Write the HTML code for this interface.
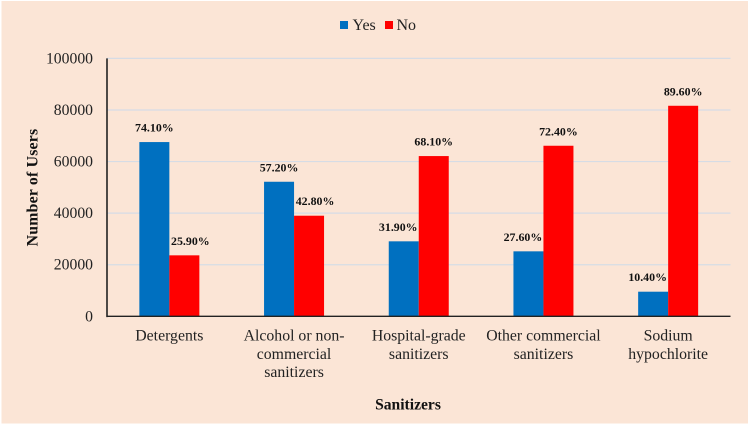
<!DOCTYPE html>
<html lang="en">
<head>
<meta charset="utf-8">
<title>Sanitizer usage</title>
<style>
html,body{margin:0;padding:0;background:#fff;width:750px;height:426px;overflow:hidden}
svg{display:block;font-family:"Liberation Serif",serif}
</style>
</head>
<body>
<svg id="chart" width="750" height="426" viewBox="0 0 750 426" xmlns="http://www.w3.org/2000/svg">
  <rect x="1.5" y="1" width="746.5" height="422.5" fill="#FBE5D6"/>
  <g id="grid"></g>
  <g id="bars"></g>
  <g id="axes"></g>
  <g id="labels"></g>
  <g>
    <g>
      <rect x="340" y="21" width="8" height="8" fill="#0070C0"/>
      <text x="352.5" y="30" font-size="16" fill="#222">Yes</text>
    </g>
    <g>
      <rect x="385" y="21" width="8" height="8" fill="#FF0000"/>
      <text x="396.5" y="30" font-size="16" fill="#222">No</text>
    </g>
  </g>
  <text transform="translate(37.5,187.5) rotate(-90)" text-anchor="middle" font-size="15.8" font-weight="bold" letter-spacing="0.2" fill="#111">Number of Users</text>
  <text x="408" y="409.5" text-anchor="middle" font-size="15.6" font-weight="bold" fill="#111">Sanitizers</text>
</svg>
<script>
const categories = [
  ["Detergents"],
  ["Alcohol or non-", "commercial", "sanitizers"],
  ["Hospital-grade", "sanitizers"],
  ["Other commercial", "sanitizers"],
  ["Sodium", "hypochlorite"]
];
const yesValues = [67560, 52170, 29070, 25190, 9540];
const noValues = [23640, 39000, 62130, 66130, 81630];
const yesLabels = ["74.10%", "57.20%", "31.90%", "27.60%", "10.40%"];
const noLabels = ["25.90%", "42.80%", "68.10%", "72.40%", "89.60%"];
const yTicks = [0, 20000, 40000, 60000, 80000, 100000];
const yMax = 100000;

const NS = "http://www.w3.org/2000/svg";
const plotLeft = 107, plotRight = 730.5, plotTop = 58.4, plotBottom = 316.3, barWidth = 30;
const yScale = v => plotBottom - (v / yMax) * (plotBottom - plotTop);
const bandCentre = i => plotLeft + (plotRight - plotLeft) * (i + 0.5) / categories.length;

function make(tag, attrs, parent, text) {
  const el = document.createElementNS(NS, tag);
  for (const k in attrs) el.setAttribute(k, attrs[k]);
  if (text !== undefined) el.textContent = text;
  parent.appendChild(el);
  return el;
}
const grid = document.getElementById("grid");
const bars = document.getElementById("bars");
const axes = document.getElementById("axes");
const labels = document.getElementById("labels");

yTicks.forEach(t => {
  if (t > 0) {
    const line = make("line", {x1: plotLeft, x2: plotRight, y1: yScale(t), y2: yScale(t), stroke: "#D6DCE5", "stroke-width": 1.2}, grid);
    
    
  }
  const tick = make("text", {x: 93, y: yScale(t) + 5, "text-anchor": "end", "font-size": 15.7, fill: "#222"}, axes, String(t));
  
  
});

categories.forEach((lines, i) => {
  const c = bandCentre(i);
  const yesTop = yScale(yesValues[i]);
  const noTop = yScale(noValues[i]);

  const yesBar = make("rect", {x: c - barWidth, y: yesTop, width: barWidth, height: plotBottom - yesTop, fill: "#0070C0"}, bars);
  
  

  const noBar = make("rect", {x: c, y: noTop, width: barWidth, height: plotBottom - noTop, fill: "#FF0000"}, bars);
  
  

  const yesNudge = noValues[i] > yesValues[i] ? -5.5 : 0;
  const noNudge = yesValues[i] > noValues[i] ? 6 : 0;

  const yesText = make("text", {x: c - barWidth / 2 + yesNudge, y: yesTop - 10.5, "text-anchor": "middle", "font-size": 11.9, "font-weight": "bold", fill: "#111"}, labels, yesLabels[i]);
  
  

  const noText = make("text", {x: c + barWidth / 2 + noNudge, y: noTop - 10.5, "text-anchor": "middle", "font-size": 11.9, "font-weight": "bold", fill: "#111"}, labels, noLabels[i]);
  
  

  lines.forEach((line, j) => {
    const cat = make("text", {x: c, y: 340.5 + j * 18.3, "text-anchor": "middle", "font-size": 15.8, fill: "#222"}, axes, line);
    
    
  });
});

const yAxis = make("line", {x1: plotLeft, x2: plotLeft, y1: plotTop, y2: plotBottom + 0.8, stroke: "#222", "stroke-width": 1.6}, axes);



const xAxis = make("line", {x1: plotLeft, x2: plotRight, y1: plotBottom, y2: plotBottom, stroke: "#222", "stroke-width": 1.4}, axes);


</script>
</body>
</html>
